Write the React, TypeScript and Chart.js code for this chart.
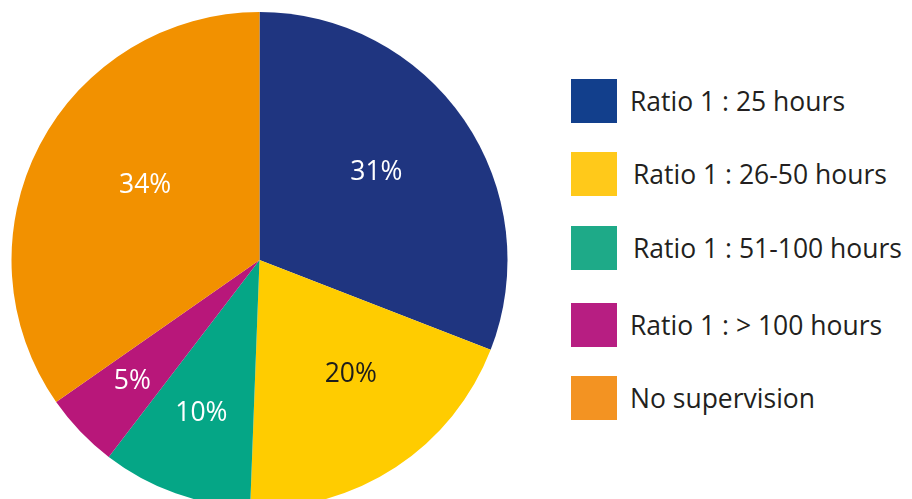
import React, { useEffect, useRef } from "react";
import { Chart, registerables } from "chart.js";

Chart.register(...registerables);

const categories = [
  "Ratio 1 : 25 hours",
  "Ratio 1 : 26-50 hours",
  "Ratio 1 : 51-100 hours",
  "Ratio 1 : > 100 hours",
  "No supervision",
];
const values = [30.9, 19.7, 9.8, 4.9, 34.7];
const percentLabels = ["31%", "20%", "10%", "5%", "34%"];
const sliceColors = ["#1F3580", "#FFCC00", "#05A686", "#B8177A", "#F29100"];
const legendColors = ["#123F8C", "#FFC91A", "#1EAA88", "#B71E82", "#F39322"];
const labelColors = ["#FFFFFF", "#1D1D1B", "#FFFFFF", "#FFFFFF", "#FFFFFF"];
const labelRadius = [0.59, 0.59, 0.66, 0.71, 0.55];
const labelAngleShift = [-2.6, -5.3, 1, 0, 5.5];
const FONT = "'Open Sans', 'Noto Sans', sans-serif";

const labelPlugin = {
  id: "sliceLabels",
  afterDatasetsDraw(chart: any) {
    const ctx = chart.ctx;
    const meta = chart.getDatasetMeta(0);
    ctx.save();
    ctx.font = `26.5px ${FONT}`;
    ctx.textAlign = "center";
    ctx.textBaseline = "middle";
    meta.data.forEach((arc: any, i: number) => {
      const p = arc.getProps(["x", "y", "startAngle", "endAngle", "outerRadius"], true);
      const mid = (p.startAngle + p.endAngle) / 2 + (labelAngleShift[i] * Math.PI) / 180;
      const r = p.outerRadius * labelRadius[i];
      ctx.fillStyle = labelColors[i];
      ctx.fillText(percentLabels[i], p.x + Math.cos(mid) * r, p.y + Math.sin(mid) * r);
    });
    ctx.restore();
  },
};

export default function App() {
  const ref = useRef<HTMLCanvasElement | null>(null);
  useEffect(() => {
    document.body.style.margin = "0";
    if (!ref.current) return;
    const chart = new Chart(ref.current, {
      type: "pie",
      data: {
        labels: categories,
        datasets: [
          {
            data: values,
            backgroundColor: sliceColors,
            borderWidth: 0,
          },
        ],
      },
      options: {
        animation: false,
        responsive: true,
        maintainAspectRatio: false,
        layout: { padding: { left: 11, right: 12, top: 12, bottom: 12 } },
        plugins: {
          legend: { display: false },
          tooltip: { enabled: false },
        },
      },
      plugins: [labelPlugin],
    });
    return () => chart.destroy();
  }, []);

  const legendTop = [79, 152, 226, 303, 376];
  const textLeft = [630, 633, 633, 630, 630];

  return (
    <div style={{ position: "relative", width: 912, height: 499, overflow: "hidden", background: "#fff" }}>
      <div style={{ position: "absolute", left: 0, top: 0, width: 520, height: 520 }}>
        <canvas ref={ref} />
      </div>
      {categories.map((c, i) => (
        <React.Fragment key={c}>
          <div
            style={{
              position: "absolute",
              left: 571,
              top: legendTop[i],
              width: 46,
              height: 44,
              background: legendColors[i],
            }}
          />
          <div
            style={{
              position: "absolute",
              left: textLeft[i],
              top: legendTop[i],
              height: 44,
              lineHeight: "44px",
              fontFamily: FONT,
              fontSize: 26.5,
              color: "#231F20",
              whiteSpace: "nowrap",
            }}
          >
            {c}
          </div>
        </React.Fragment>
      ))}
    </div>
  );
}
